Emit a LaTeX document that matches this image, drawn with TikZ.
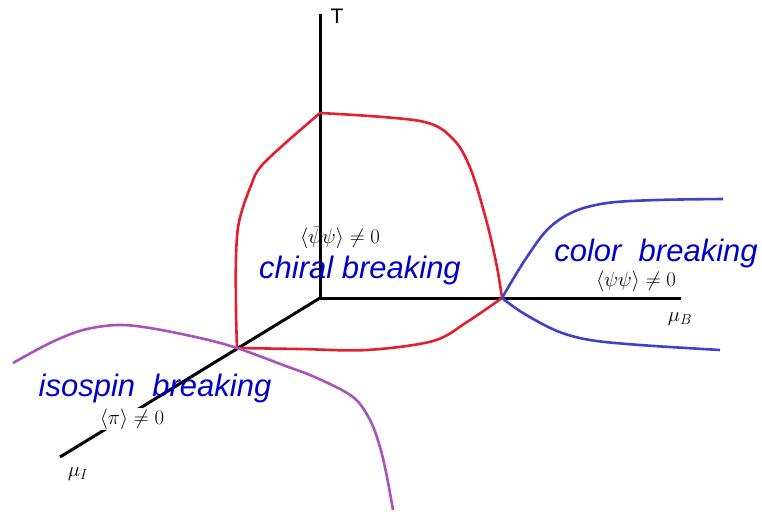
\documentclass[tikz,border=0pt]{standalone}
\usepackage{fontspec}
\newfontfamily\arialish{Liberation Sans}
\definecolor{redc}{RGB}{228,30,45}
\definecolor{bluec}{RGB}{62,66,200}
\definecolor{purplec}{RGB}{168,82,188}
\definecolor{textblue}{RGB}{0,0,205}
\begin{document}
\begin{tikzpicture}[x=1pt,y=-1pt,
  axis/.style={line width=3pt},
  curve/.style={line width=2.6pt, line join=round},
  phase/.style={text=textblue, font=\arialish\itshape\fontsize{31}{31}\selectfont, inner sep=0pt},
  cond/.style={font=\fontsize{22}{22}\selectfont, inner sep=0pt},
  axlabel/.style={font=\fontsize{21}{21}\selectfont, inner sep=0pt}]
\useasboundingbox (0,0) rectangle (762,515);
% axes
\coordinate (O) at (320,298);
\coordinate (Ttop) at (320,14);
\coordinate (Bend) at (681,298);
\coordinate (Iend) at (60,457);
\coordinate (A) at (237,348);
\coordinate (Tp) at (320,113);
\coordinate (B) at (502,298);
\draw[axis] (O) -- (Ttop);
\draw[axis] (O) -- (Bend);
\draw[axis] (O) -- (Iend);
% red chiral boundary
\draw[curve, redc] plot[smooth, tension=0.55] coordinates {(237,348) (236,310) (236,257) (239,222) (250,188) (264,163) (320,113)};
\draw[curve, redc] plot[smooth, tension=0.55] coordinates {(320,113) (420,121) (453,139) (471,170) (487,223) (497,267) (502,298)};
\draw[curve, redc] plot[smooth, tension=0.55] coordinates {(502,298) (467,322) (433,341) (367,350) (300,349) (237,348)};
% blue color boundary
\draw[curve, bluec] plot[smooth, tension=0.55] coordinates {(502,298) (523,263) (547,230) (573,212) (607,203) (657,200) (723,199)};
\draw[curve, bluec] plot[smooth, tension=0.55] coordinates {(502,298) (523,313) (557,331) (590,340) (640,345) (720,350)};
% purple isospin boundary
\draw[curve, purplec] plot[smooth, tension=0.55] coordinates {(13,363) (50,343) (83,330) (117,325) (150,328) (200,338) (237,348) (283,365) (317,378) (353,397) (370,420) (380,447) (387,477) (393,510)};
% labels
\node[font=\arialish\fontsize{21}{21}\selectfont, inner sep=0pt] (Tl) at (337,16) {T};
\node[axlabel] (muB) at (680,319) {$\mu_B$};
\node[axlabel] (muI) at (78,474) {$\mu_I$};
\node[cond] (chc) at (340,238) {$\langle\bar\psi\psi\rangle\neq0$};
\node[cond] (coc) at (636,281) {$\langle\psi\psi\rangle\neq0$};
\node[cond, fill=white, inner sep=1pt] (isc) at (132,419) {$\langle\pi\rangle\neq0$};
\node[phase] (chiral) at (360,270) {chiral breaking};
\node[phase] (color) at (656,253) {color\ \ breaking};
\node[phase] (iso) at (155,388) {isospin\ \ breaking};
\end{tikzpicture}
\end{document}
